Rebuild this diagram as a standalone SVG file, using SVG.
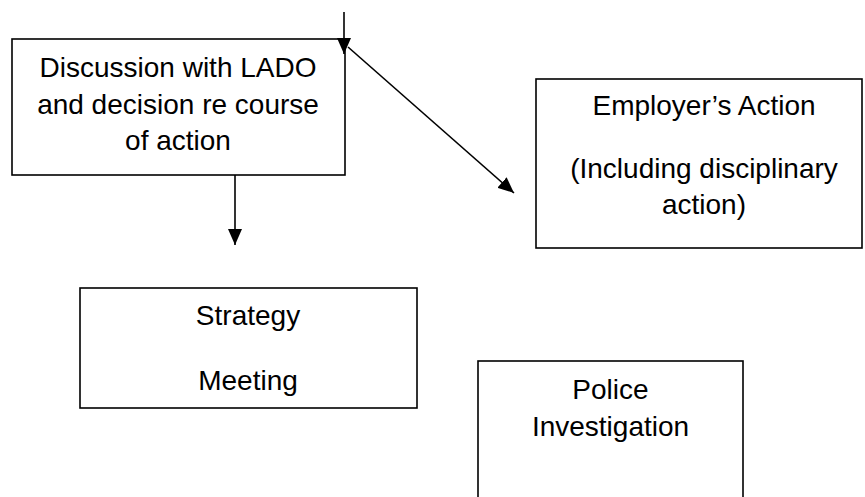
<svg xmlns="http://www.w3.org/2000/svg" width="865" height="497" viewBox="0 0 865 497">
<style>
.box{fill:#fff;stroke:#000;stroke-width:1.6}
.t{font-family:"Liberation Sans",Arial,sans-serif;font-size:28px;fill:#000;text-anchor:middle}
.c{stroke:#000;stroke-width:1.6;fill:none}
</style>
<defs>
<marker id="ah" markerWidth="16" markerHeight="14" refX="16" refY="7" orient="auto" markerUnits="userSpaceOnUse">
<path d="M0,0 L16,7 L0,14 Z" fill="#000"/>
</marker>
</defs>
<rect width="865" height="497" fill="#fff"/>
<g id="node-discussion">
<rect class="box" x="12" y="39" width="333" height="136"/>
<text class="t" x="178" y="77">Discussion with LADO</text>
<text class="t" x="178" y="113.5">and decision re course</text>
<text class="t" x="178" y="150">of action</text>
</g>
<g id="node-employer">
<rect class="box" x="536" y="79" width="326" height="169"/>
<text class="t" x="704" y="115">Employer’s Action</text>
<text class="t" x="704" y="177.5">(Including disciplinary</text>
<text class="t" x="704" y="213.5">action)</text>
</g>
<g id="node-strategy">
<rect class="box" x="80" y="288" width="337" height="120"/>
<text class="t" x="248" y="325">Strategy</text>
<text class="t" x="248" y="390">Meeting</text>
</g>
<g id="node-police">
<rect class="box" x="478" y="361" width="265" height="150"/>
<text class="t" x="610.5" y="399">Police</text>
<text class="t" x="610.5" y="436">Investigation</text>
</g>
<g id="connectors">
<line class="c" x1="344" y1="12" x2="344" y2="54" marker-end="url(#ah)"/>
<line class="c" x1="348" y1="47" x2="514" y2="193" marker-end="url(#ah)"/>
<line class="c" x1="235" y1="175" x2="235" y2="245" marker-end="url(#ah)"/>
</g>
</svg>
